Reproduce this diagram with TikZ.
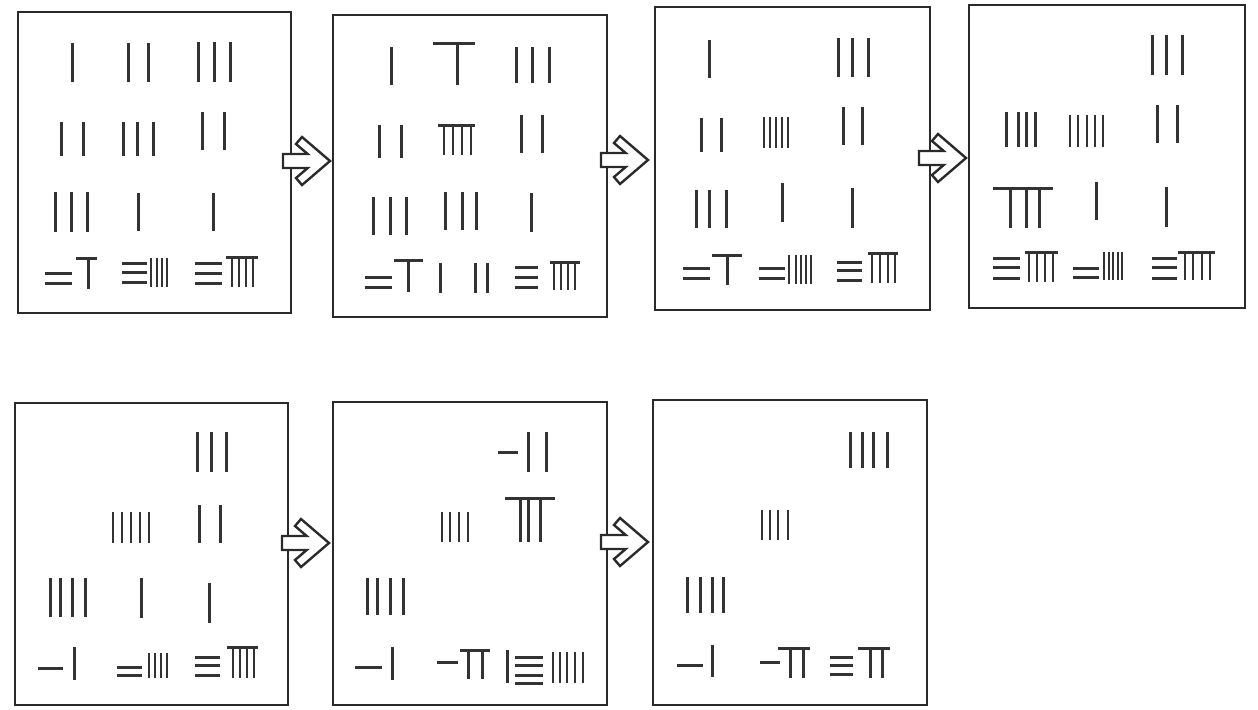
\documentclass[tikz,border=0pt]{standalone}
\usepackage{tikz}
\definecolor{ink}{HTML}{2A2A2A}
\definecolor{rodink}{HTML}{333333}
\tikzset{
  rod/.style={draw=rodink, line width=1.5pt},
  thinrod/.style={draw=rodink, line width=1.1pt},
  box/.style={draw=ink, line width=1.3pt},
  blockarrow/.style={draw=ink, fill=white, line width=1.2pt, line join=miter}
}
\newcommand\RV[3]{\foreach \q in {#1}{\draw[rod] (\q,#2) -- (\q,#3);}}
\newcommand\RVD[3]{\foreach \q in {#1}{\draw[thinrod] (\q,#2) -- (\q,#3);}}
\newcommand\RH[3]{\foreach \q in {#3}{\draw[rod] (#1,\q) -- (#2,\q);}}
\newcommand\BArrow[2]{\draw[blockarrow,shift={(#1,#2)}]
  (0,-7) -- (24.7,-7) -- (13,-17) -- (19,-24) -- (47,0) -- (19,24) -- (13,17) -- (24.7,7) -- (0,7) -- cycle;}
\begin{document}
\begin{tikzpicture}[x=0.5pt,y=-0.5pt]
\useasboundingbox (0,0) rectangle (1258,709);
\fill[white] (0,0) rectangle (1258,709);
% boxes
\draw[box] (18,12) rectangle (291,313);
\draw[box] (333,15) rectangle (607,317);
\draw[box] (655,7) rectangle (930,310);
\draw[box] (969,5) rectangle (1245,308);
\draw[box] (15,403) rectangle (288,705);
\draw[box] (333,402) rectangle (607,705);
\draw[box] (653,400) rectangle (927,705);
% arrows
\BArrow{283}{161}
\BArrow{601}{160}
\BArrow{919}{158}
\BArrow{282}{543}
\BArrow{601}{542}
% box 1
\RV{72}{43}{82}
\RV{128,148}{43}{82}
\RV{198,214,230}{42}{82}
\RV{61,83}{122}{156}
\RV{123,137,153}{122}{156}
\RV{202,224}{112}{150}
\RV{55,71,87}{192}{232}
\RV{138}{193}{231}
\RV{213}{193}{231}
\RH{45}{72}{273,283}
\RH{76}{97}{258} \RV{88}{258}{289}
\RH{122}{147}{263,272,282} \RVD{151,157,162,167}{258}{287}
\RH{195}{222}{263,273,283} \RH{226}{258}{257} \RVD{232,239,246,253}{257}{287}
% box 2
\RV{391}{47}{85}
\RH{433}{475}{43} \RV{457}{43}{85}
\RV{516,532,549}{47}{83}
\RV{379,401}{125}{158}
\RH{438}{475}{125} \RVD{444,453,462,471}{125}{155}
\RV{521,542}{115}{153}
\RV{373,390,406}{197}{235}
\RV{445,462,476}{192}{230}
\RV{531}{193}{232}
\RH{365}{392}{277,287}
\RH{394}{423}{260} \RV{408}{260}{292}
\RV{440}{263}{293}
\RV{475,487}{263}{293}
\RH{515}{538}{267,277,287}
\RH{550}{580}{262} \RVD{554,561,568,575}{262}{290}
% box 3
\RV{709}{40}{78}
\RV{838,852,868}{38}{77}
\RV{701,721}{118}{152}
\RVD{764,770,776,782,788}{117}{148}
\RV{843,862}{107}{145}
\RV{696,709,726}{190}{228}
\RV{782}{183}{222}
\RV{852}{188}{228}
\RH{683}{710}{268,278}
\RH{712}{742}{255} \RV{727}{255}{285}
\RH{759}{785}{268,278} \RVD{789,796,801,806,811}{255}{284}
\RH{837}{862}{262,270,280}
\RH{868}{898}{253} \RVD{872,880,888,895}{253}{283}
% box 4
\RV{1152,1166,1182}{35}{75}
\RV{1006,1018,1026,1035}{112}{147}
\RVD{1070,1078,1087,1095,1103}{115}{147}
\RV{1157,1177}{105}{143}
\RH{993}{1053}{188} \RV{1010,1026,1039}{188}{228}
\RV{1096}{182}{220}
\RV{1166}{187}{227}
\RH{993}{1020}{258,267,278}
\RH{1025}{1058}{252} \RVD{1029,1037,1045,1053}{252}{282}
\RH{1073}{1099}{268,277} \RVD{1104,1109,1113,1118,1122}{252}{280}
\RH{1152}{1177}{258,267,278}
\RH{1178}{1215}{252} \RVD{1185,1193,1202,1210}{252}{280}
% box 5
\RV{197,211,226}{432}{472}
\RVD{113,122,131,140,149}{512}{543}
\RV{199,220}{505}{543}
\RV{50,60,72,85}{578}{617}
\RV{141}{578}{618}
\RV{209}{583}{623}
\RH{38}{63}{668} \RV{74}{647}{680}
\RH{117}{142}{667,675} \RVD{149,155,161,167}{653}{678}
\RH{195}{220}{657,665,675}
\RH{227}{258}{647} \RVD{233,240,247,254}{647}{678}
% box 6
\RH{498}{518}{452} \RV{528,546}{432}{472}
\RVD{442,450,459,468}{512}{542}
\RH{505}{555}{498} \RV{520,528,540}{498}{542}
\RV{367,377,390,403}{578}{615}
\RH{355}{382}{667} \RV{392}{647}{680}
\RH{437}{458}{662} \RH{460}{490}{650} \RV{468,482}{650}{679}
\RV{507}{650}{683}
\RH{515}{543}{657,665,675,683}
\RVD{553,560,567,575,583}{652}{683}
% box 7
\RV{850,862,873,887}{432}{468}
\RVD{762,770,778,788}{510}{540}
\RV{687,700,712,723}{577}{613}
\RH{677}{703}{665} \RV{712}{645}{677}
\RH{760}{780}{662} \RH{778}{810}{648} \RV{790,803}{648}{678}
\RH{830}{853}{657,665,674}
\RH{858}{890}{648} \RV{870,882}{648}{678}
\end{tikzpicture}
\end{document}
